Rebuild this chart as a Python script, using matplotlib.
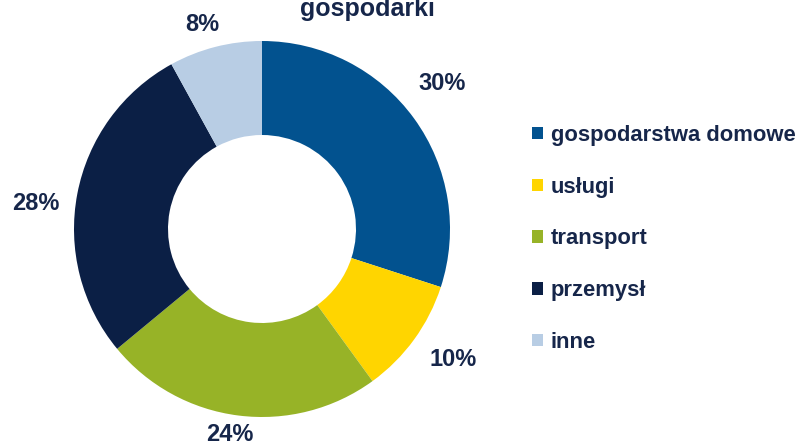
import matplotlib
matplotlib.use('Agg')
import matplotlib.pyplot as plt
from matplotlib.patches import Patch

plt.rcParams['font.family'] = ['Liberation Sans', 'DejaVu Sans']

categories = ['gospodarstwa domowe', 'usługi', 'transport', 'przemysł', 'inne']
shares = [30, 10, 24, 28, 8]
colors = ['#02528F', '#FFD500', '#97B327', '#0B1F45', '#B8CDE4']
label_text = ['30%', '10%', '24%', '28%', '8%']
title = 'gospodarki'
text_color = '#16264A'

# label positions in pixel space (x, y from top)
label_pos = [(442, 84), (453, 359), (230, 434), (36, 204), (202, 25)]


def main():
    fig = plt.figure(figsize=(8.01, 4.44), dpi=100)
    ax = fig.add_axes([0, 0, 1, 1])
    ax.axis('off')

    ax.pie(shares, colors=colors, startangle=90, counterclock=False,
           radius=188, center=(262, 444 - 229),
           wedgeprops=dict(width=94, linewidth=0))
    ax.set_xlim(0, 801)
    ax.set_ylim(0, 444)
    ax.set_aspect('equal')

    for txt, (x, y) in zip(label_text, label_pos):
        ax.text(x, 444 - y, txt, ha='center', va='center', fontsize=17,
                fontweight='bold', color=text_color)

    ax.text(367, 444 - 16, title, ha='center', va='baseline', fontsize=18,
            fontweight='bold', color=text_color)

    handles = [Patch(facecolor=c, edgecolor='none') for c in colors]
    leg = ax.legend(handles, categories, loc='upper left',
                    bbox_to_anchor=(532 / 801, 1 - 125 / 444),
                    frameon=False, fontsize=15.8, handlelength=0.5,
                    handleheight=0.5, handletextpad=0.35, labelspacing=1.4,
                    borderpad=0, borderaxespad=0)
    for t in leg.get_texts():
        t.set_fontweight('bold')
        t.set_color(text_color)

    fig.savefig('out.png', dpi=100)
    plt.close(fig)


if __name__ == '__main__':
    main()
